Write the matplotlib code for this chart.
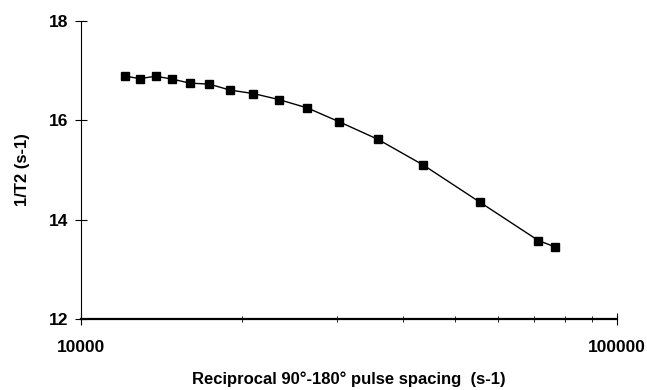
import matplotlib
matplotlib.use("Agg")
import matplotlib.pyplot as plt
from matplotlib.ticker import LogLocator, NullFormatter, FixedLocator

freq = [12100, 12890, 13790, 14810, 15980, 17360, 18980, 20980, 23400, 26470,
        30370, 35810, 43570, 55610, 71450, 76860]
rate = [16.89, 16.84, 16.89, 16.83, 16.75, 16.73, 16.61, 16.54, 16.42, 16.25,
        15.97, 15.62, 15.10, 14.35, 13.58, 13.45]
yticks = [12, 14, 16, 18]
xticks = [10000, 100000]

plt.rcParams['font.family'] = ['Liberation Sans', 'DejaVu Sans']
plt.rcParams['font.weight'] = 'bold'

fig = plt.figure(figsize=(6.47, 3.90), dpi=100)
ax = fig.add_axes([0.1252, 0.182, 0.953 - 0.1252, 0.946 - 0.182])
ax.plot(freq, rate, color='black', lw=1.0, marker='s', markersize=5.5,
        markerfacecolor='black', markeredgecolor='black')
ax.set_xscale('log')
ax.set_xlim(10000, 100000)
ax.set_ylim(12, 18)
ax.set_yticks(yticks)
ax.set_yticklabels([str(t) for t in yticks], fontsize=12.5, fontweight='bold')
ax.xaxis.set_major_locator(FixedLocator(xticks))
ax.set_xticklabels(['10000', '100000'], fontsize=12.5, fontweight='bold')
ax.xaxis.set_minor_locator(LogLocator(base=10, subs=range(2, 10)))
ax.xaxis.set_minor_formatter(NullFormatter())
for s in ['top', 'right']:
    ax.spines[s].set_visible(False)
ax.spines['left'].set_linewidth(0.8)
ax.spines['bottom'].set_linewidth(1.6)
ax.tick_params(axis='y', direction='inout', length=8, width=0.8, pad=5)
ax.tick_params(axis='x', which='major', direction='inout', length=8, width=0.8, pad=11)
ax.tick_params(axis='x', which='minor', direction='inout', length=5, width=0.6)
ax.set_xlabel('Reciprocal 90°-180° pulse spacing  (s-1)', fontsize=12,
              fontweight='bold', labelpad=12)
ax.set_ylabel('1/T2 (s-1)', fontsize=12, fontweight='bold', labelpad=14)
fig.savefig('out.png', dpi=100)
